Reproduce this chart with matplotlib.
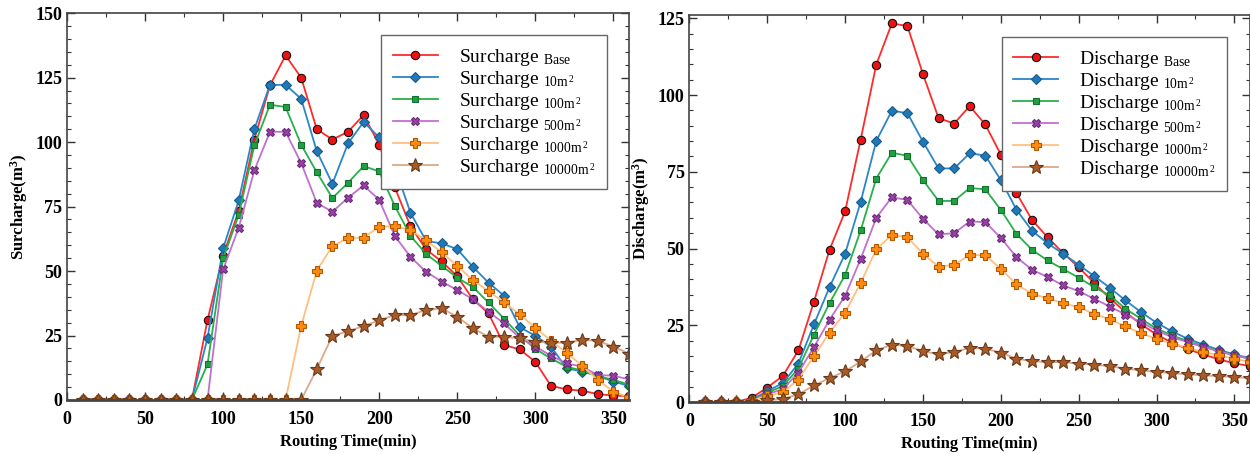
import numpy as np
import matplotlib
matplotlib.use("Agg")
import matplotlib.pyplot as plt
from matplotlib.ticker import MultipleLocator

plt.rcParams['font.family'] = ['Liberation Serif', 'DejaVu Serif']
plt.rcParams['mathtext.fontset'] = 'custom'
plt.rcParams['mathtext.rm'] = 'Liberation Serif'
plt.rcParams['mathtext.it'] = 'Liberation Serif:italic'
plt.rcParams['mathtext.bf'] = 'Liberation Serif:bold'

time = list(range(10, 361, 10))

sur_base = [0, 0, 0, 0, 0, 0, 0, 0, 31, 56, 73.4, 101, 122, 133.6, 125, 105, 101, 104, 110.5, 99,
            82.4, 67.4, 58.4, 53.7, 48, 39, 33.6, 21.3, 19.6, 14.8, 5.5, 4.1, 3.6, 2.3, 1.7, 1.5]
sur_10 = [0, 0, 0, 0, 0, 0, 0, 0, 24, 58.8, 77.4, 105, 122.2, 122.2, 116.8, 96.5, 83.8, 99.5, 107.8, 101.8,
          90.4, 72.6, 61.7, 60.7, 58.5, 51.6, 45.5, 40.4, 28.2, 24.9, 20.7, 12.3, 11, 9.4, 7.1, 5.5]
sur_100 = [0, 0, 0, 0, 0, 0, 0, 0, 13.8, 54.9, 71.7, 98.7, 114.5, 113.6, 99, 88.3, 78.3, 84.2, 90.7, 88.6,
           75.2, 63.7, 56.6, 52, 47.4, 43.8, 37.8, 31.5, 25, 19.8, 16.1, 12.9, 11.4, 9.3, 7.8, 6]
sur_500 = [0, 0, 0, 0, 0, 0, 0, 0, 0, 50.6, 66.8, 89, 104, 104, 91.9, 76.4, 73, 78.4, 83.2, 77.6,
           63.6, 55.5, 49.7, 45.9, 42.6, 39.1, 34.2, 29.7, 24.1, 20.7, 17.2, 14.2, 12.9, 9.7, 9.4, 8]
sur_1000 = [0, 0, 0, 0, 0, 0, 0, 0, 0, 0, 0, 0, 0, 0, 28.7, 50.1, 59.7, 62.8, 63, 67.2,
            67.4, 65.9, 62, 57.2, 52, 46.5, 42.2, 37.8, 33.2, 28, 23, 18.3, 13.3, 7.8, 3.2, 1]
sur_10000 = [0, 0, 0, 0, 0, 0, 0, 0, 0, 0, 0, 0, 0, 0, 0, 12, 24.9, 26.6, 28.7, 30.9,
             32.9, 32.9, 34.9, 35.5, 32.3, 27.8, 24.5, 24.5, 23.9, 22.6, 22.2, 22.2, 23.3, 22.9, 20.7, 18]

dis_base = [0, 0, 0, 1.4, 4.7, 8.5, 16.8, 32.7, 49.6, 62.1, 85.5, 109.9, 123.3, 122.5, 106.8, 92.5, 90.7, 96.4, 90.4, 80.6,
            68.1, 59.3, 53.7, 48.5, 43.9, 38.7, 33.8, 29.3, 25.3, 22, 19.3, 17.2, 15.5, 13.9, 12.6, 11.7]
dis_10 = [0, 0, 0, 0.8, 3.5, 6.2, 12.5, 25.3, 37.4, 48.3, 65.2, 85, 94.9, 94.1, 84.8, 76.1, 76.1, 81, 80.3, 72.3,
          62.7, 55.8, 51.7, 48.3, 44.7, 41, 37.2, 33.1, 29.3, 25.8, 23, 20.6, 18.7, 17, 15.5, 14.3]
dis_100 = [0, 0, 0, 0.6, 3, 5.2, 10.9, 21.9, 32.2, 41.4, 55.9, 72.8, 81.2, 80.2, 72.3, 65.5, 65.5, 69.7, 69.3, 62.6,
           54.8, 49.6, 46.1, 43.3, 40.5, 37.4, 34.7, 30.4, 27.1, 23.9, 21.7, 19.8, 18.2, 16.6, 15.2, 14.1]
dis_500 = [0, 0, 0, 0.5, 2.5, 4.2, 9.6, 17.9, 26.8, 34.6, 46.6, 60, 66.7, 65.8, 59.7, 54.6, 55, 58.8, 58.6, 53.5,
           47.2, 43.1, 40.7, 38, 36.1, 33.6, 31.1, 28.5, 26, 23.3, 21.1, 19.5, 17.9, 16.5, 15.2, 14.1]
dis_1000 = [0, 0, 0, 0.4, 2, 3.2, 7.3, 15, 22.6, 29.1, 38.8, 49.7, 54.5, 53.7, 48.3, 44.1, 44.7, 47.9, 47.8, 43.4,
            38.3, 35.3, 33.8, 32.2, 30.9, 28.7, 26.9, 24.6, 22.4, 20.6, 19, 17.7, 16.3, 15.2, 14.1, 13]
dis_10000 = [0, 0, 0, 0.1, 0.5, 1, 2.5, 5.4, 7.8, 10, 13.2, 16.8, 18.7, 18.2, 16.6, 15.5, 16.3, 17.6, 17.4, 16.1,
             14.1, 13.3, 13, 13, 12.5, 12.2, 11.6, 10.9, 10.3, 9.8, 9.4, 9, 8.7, 8.4, 8.1, 7.8]

subs = ["Base", "10m^{2}", "100m^{2}", "500m^{2}", "1000m^{2}", "10000m^{2}"]

styles = [
    dict(color='#ff2a2a', marker='o', mfc='#ee1111', mec='#111111', ms=6),
    dict(color='#2a86c8', marker='D', mfc='#1f78b8', mec='#1a5a8a', ms=5),
    dict(color='#28b04a', marker='s', mfc='#20a040', mec='#157030', ms=5),
    dict(color='#c070d0', marker='X', mfc='#9a40a8', mec='#6a2a78', ms=6),
    dict(color='#ffbf80', marker='P', mfc='#ff8a10', mec='#b05a00', ms=7),
    dict(color='#dca888', marker='*', mfc='#a85a28', mec='#6a3a18', ms=10),
]

fig = plt.figure(figsize=(12.5, 4.54), dpi=100)
ax1 = fig.add_axes([0.0536, 0.119, 0.4496, 0.852])
ax2 = fig.add_axes([0.5515, 0.1145, 0.4485, 0.852])


def sub_label(name, s):
    if s == "Base":
        return name + r" $_{\mathrm{Base}}$"
    num = s.replace("m^{2}", "")
    return name + r" $_{\mathrm{" + num + r"m}^{\,2}}$"


def setup(ax, series, name, ylabel, ymax, ymajor, legend_anchor):
    for vals, st, s in zip(series, styles, subs):
        ax.plot(time, vals, lw=1.3, mew=0.8, label=sub_label(name, s), **st)
    ax.set_xlim(0, 360)
    ax.set_ylim(0, ymax)
    ax.xaxis.set_major_locator(MultipleLocator(50))
    ax.xaxis.set_minor_locator(MultipleLocator(25))
    ax.yaxis.set_major_locator(MultipleLocator(ymajor))
    ax.yaxis.set_minor_locator(MultipleLocator(5))
    ax.tick_params(which='both', direction='in', top=True, right=True, colors='#333333')
    ax.tick_params(which='major', length=6, width=1.0, labelsize=13, labelcolor='black')
    ax.tick_params(axis='x', which='major', pad=8)
    ax.tick_params(which='minor', length=3, width=0.8)
    for lab in ax.get_xticklabels() + ax.get_yticklabels():
        lab.set_fontweight('bold')
    for sp in ax.spines.values():
        sp.set_color('#444444')
        sp.set_linewidth(1.2)
    ax.spines['bottom'].set_linewidth(2.0)
    ax.set_xlabel("Routing Time(min)", fontsize=12, fontweight='bold', labelpad=4)
    ax.set_ylabel(ylabel, fontsize=12, fontweight='bold', labelpad=4)
    leg = ax.legend(loc='upper left', bbox_to_anchor=legend_anchor, fontsize=14,
                    frameon=True, fancybox=False, edgecolor='#666666', framealpha=1,
                    handlelength=2.3, handletextpad=1.1, labelspacing=0.05,
                    borderpad=0.6, borderaxespad=0)
    leg.get_frame().set_linewidth(1.0)


setup(ax1, [sur_base, sur_10, sur_100, sur_500, sur_1000, sur_10000], "Surcharge",
      r"Surcharge(m$^{\mathbf{3}}$)", 150, 25, (0.559, 0.943))
setup(ax2, [dis_base, dis_10, dis_100, dis_500, dis_1000, dis_10000], "Discharge",
      r"Discharge(m$^{\mathbf{3}}$)", 126, 25, (0.557, 0.943))

fig.savefig("out.png", dpi=100)
